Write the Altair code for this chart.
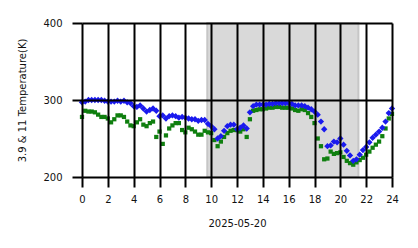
import altair as alt
import pandas as pd

hours = [i * 0.25 for i in range(97)]

temp_11 = [297, 298, 300, 300, 300, 300, 300, 299, 298, 298, 298, 299, 298, 299, 297, 296,
           292, 291, 293, 289, 285, 287, 289, 286, 279, 280, 276, 279, 280, 279, 277, 278,
           277, 276, 275, 275, 273, 274, 274, 269, 266, 262, 250, 253, 260, 266, 268, 268,
           262, 264, 267, 263, 284, 292, 294, 294, 294, 294, 295, 295, 296, 296, 296, 296,
           296, 295, 293, 293, 293, 292, 290, 288, 285, 281, 272, 262, 240, 241, 246, 245,
           250, 242, 234, 228, 221, 223, 229, 235, 239, 245, 251, 255, 259, 264, 272, 283,
           289]

temp_39 = [278, 286, 285, 285, 284, 281, 278, 278, 276, 271, 275, 280, 280, 278, 272, 267,
           266, 271, 275, 268, 266, 270, 272, 252, 259, 243, 254, 263, 267, 270, 270, 261,
           258, 264, 262, 259, 255, 255, 260, 258, 257, 248, 240, 246, 252, 257, 260, 261,
           261, 259, 262, 252, 275, 286, 287, 288, 288, 289, 290, 290, 291, 291, 290, 290,
           290, 289, 287, 286, 288, 287, 283, 278, 270, 250, 240, 223, 224, 233, 230, 231,
           232, 226, 221, 218, 216, 219, 222, 225, 229, 233, 238, 242, 246, 253, 263, 276,
           282]

night_start = [9.7]
night_end = [21.4]
y_lo = [200]
y_hi = [400]

x_ticks = [0, 2, 4, 6, 8, 10, 12, 14, 16, 18, 20, 22, 24]
y_ticks = [200, 300, 400]

df = pd.DataFrame({"hour": hours, "t11": temp_11, "t39": temp_39})
span = pd.DataFrame({"s": night_start, "e": night_end, "lo": y_lo, "hi": y_hi})

FONT = "DejaVu Sans"

xscale = alt.Scale(domain=[0, 24], nice=False, zero=False)
yscale = alt.Scale(domain=[200, 400], nice=False, zero=False)

xaxis = alt.Axis(values=x_ticks, title="2025-05-20", format="d", grid=True,
                 gridColor="black", gridWidth=2, gridOpacity=1, domain=False,
                 tickColor="black", tickWidth=2, tickSize=10, labelPadding=7,
                 labelFontSize=10, labelFont=FONT, labelColor="#111",
                 labelOverlap=False, labelFlush=False,
                 titleFontSize=10, titleFont=FONT, titleFontWeight="normal",
                 titleColor="#111", titleX=155, titleY=46, titleBaseline="middle",
                 titleAlign="center", zindex=1)
yaxis = alt.Axis(values=y_ticks, title="3.9 & 11 Temperature(K)", grid=True,
                 gridColor="black", gridWidth=2, gridOpacity=1, domain=False,
                 tickColor="black", tickWidth=2, tickSize=10, labelPadding=10,
                 labelFontSize=10, labelFont=FONT, labelColor="#111",
                 labelOverlap=False,
                 titleFontSize=10, titleFont=FONT, titleFontWeight="normal",
                 titleColor="#111", titleX=-60, titleY=77, titleAngle=-90,
                 titleBaseline="middle", titleAlign="center", zindex=1)

shade = alt.Chart(span).mark_rect(color="#d9d9d9", stroke="#c6c6c6", strokeWidth=2).encode(
    x=alt.X("s:Q", scale=xscale, axis=xaxis),
    x2="e:Q",
    y=alt.Y("lo:Q", scale=yscale, axis=yaxis),
    y2="hi:Q",
)

green = alt.Chart(df).mark_point(shape="square", filled=True, size=18, color="#0f7f0f",
                                  opacity=1).encode(
    x=alt.X("hour:Q", scale=xscale, axis=xaxis),
    y=alt.Y("t39:Q", scale=yscale, axis=yaxis),
)

blue = alt.Chart(df).mark_point(shape="diamond", filled=True, size=40, color="#1a1aee",
                                 opacity=1).encode(
    x=alt.X("hour:Q", scale=xscale, axis=xaxis),
    y=alt.Y("t11:Q", scale=yscale, axis=yaxis),
)

chart = alt.layer(shade, green, blue).properties(
    width=310, height=154,
    autosize=alt.AutoSizeParams(type="none"),
    padding={"left": 82, "top": 23, "right": 26, "bottom": 71},
    background="white",
).configure_view(stroke=None)

chart.save("out.html", embed_options={"renderer": "svg", "actions": False})
